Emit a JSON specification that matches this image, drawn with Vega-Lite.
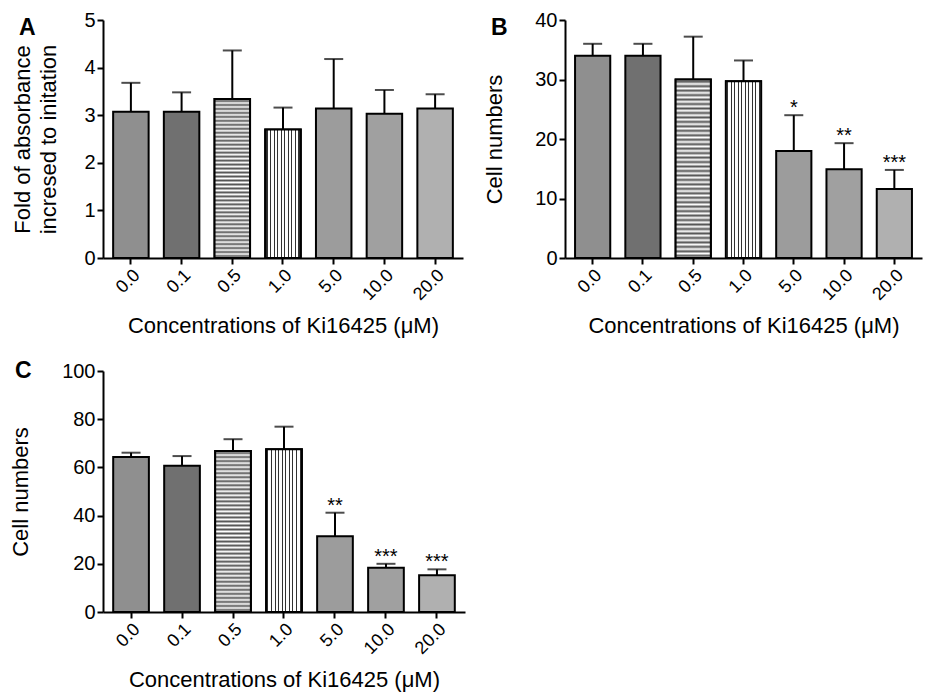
{
  "$schema": "https://vega.github.io/schema/vega-lite/v6.json",
  "padding": {"left": 9, "top": 10, "right": 5, "bottom": 5},
  "background": "white",
  "config": {
    "font": "Liberation Sans",
    "view": {"stroke": null},
    "axis": {
      "grid": false,
      "domainColor": "black", "domainWidth": 2,
      "tickColor": "black", "tickWidth": 2, "tickSize": 6,
      "labelColor": "black", "titleColor": "black",
      "titleFontWeight": "normal", "titleFontSize": 22, "labelFontSize": 20
    },
    "title": {"fontSize": 23, "fontWeight": "bold", "color": "black", "anchor": "start", "frame": "group"}
  },
  "datasets": {
    "a": [
      {"c": "0.0", "mean": 3.07, "hi": 3.68, "sig": ""},
      {"c": "0.1", "mean": 3.07, "hi": 3.48, "sig": ""},
      {"c": "0.5", "mean": 3.34, "hi": 4.36, "sig": ""},
      {"c": "1.0", "mean": 2.70, "hi": 3.16, "sig": ""},
      {"c": "5.0", "mean": 3.14, "hi": 4.18, "sig": ""},
      {"c": "10.0", "mean": 3.03, "hi": 3.53, "sig": ""},
      {"c": "20.0", "mean": 3.14, "hi": 3.44, "sig": ""}
    ],
    "b": [
      {"c": "0.0", "mean": 34.0, "hi": 36.0, "sig": ""},
      {"c": "0.1", "mean": 34.0, "hi": 36.0, "sig": ""},
      {"c": "0.5", "mean": 30.0, "hi": 37.2, "sig": ""},
      {"c": "1.0", "mean": 29.7, "hi": 33.2, "sig": ""},
      {"c": "5.0", "mean": 18.0, "hi": 24.0, "sig": "*"},
      {"c": "10.0", "mean": 14.9, "hi": 19.3, "sig": "**"},
      {"c": "20.0", "mean": 11.6, "hi": 14.8, "sig": "***"}
    ],
    "c": [
      {"c": "0.0", "mean": 64.3, "hi": 66.1, "sig": ""},
      {"c": "0.1", "mean": 60.7, "hi": 64.7, "sig": ""},
      {"c": "0.5", "mean": 66.8, "hi": 71.7, "sig": ""},
      {"c": "1.0", "mean": 67.5, "hi": 76.9, "sig": ""},
      {"c": "5.0", "mean": 31.4, "hi": 41.2, "sig": "**"},
      {"c": "10.0", "mean": 18.4, "hi": 20.0, "sig": "***"},
      {"c": "20.0", "mean": 15.2, "hi": 17.7, "sig": "***"}
    ]
  },
  "columns": 2,
  "spacing": {"row": 23, "column": 18},
  "concat": [
    {
      "title": {"text": "A", "dx": -84, "dy": 34},
      "width": 360, "height": 238,
      "data": {"name": "a"},
      "encoding": {
        "x": {"field": "c", "type": "ordinal", "sort": null,
              "scale": {"paddingInner": 0.3, "paddingOuter": 0.2},
              "axis": {"title": "Concentrations of Ki16425 (μM)", "labelAngle": -45, "labelFontSize": 18, "titlePadding": 12}}
      },
      "layer": [
        {"mark": {"type": "rule", "color": "black", "strokeWidth": 2},
         "encoding": {"y": {"field": "mean", "type": "quantitative"}, "y2": {"field": "hi"}}},
        {"mark": {"type": "bar", "stroke": "black", "strokeWidth": 2},
         "encoding": {
           "y": {"field": "mean", "type": "quantitative", "scale": {"domain": [0, 5]},
                 "axis": {"title": ["Fold of absorbance", "incresed to initation"], "titleLineHeight": 26, "values": [0, 1, 2, 3, 4, 5], "titlePadding": 23}},
           "fill": {"field": "c", "type": "nominal", "sort": null, "legend": null,
                    "scale": {"domain": ["0.0", "0.1", "0.5", "1.0", "5.0", "10.0", "20.0"], "range": ["#8f8f8f", "#707070", "#b8b8b8", "#c4c4c4", "#9c9c9c", "#a0a0a0", "#b0b0b0"]}}
         }},
        {"transform": [{"filter": "datum.c === '0.5'"}],
         "mark": {"type": "bar", "stroke": "black", "strokeWidth": 2,
           "fill": {"gradient": "linear", "x1": 0, "y1": 0, "x2": 0, "y2": 1, "stops": [
            {"offset": 0, "color": "white"}, {"offset": 0.0125, "color": "#555555"},
            {"offset": 0.025, "color": "white"}, {"offset": 0.0375, "color": "#555555"},
            {"offset": 0.05, "color": "white"}, {"offset": 0.0625, "color": "#555555"},
            {"offset": 0.075, "color": "white"}, {"offset": 0.0875, "color": "#555555"},
            {"offset": 0.1, "color": "white"}, {"offset": 0.1125, "color": "#555555"},
            {"offset": 0.125, "color": "white"}, {"offset": 0.1375, "color": "#555555"},
            {"offset": 0.15, "color": "white"}, {"offset": 0.1625, "color": "#555555"},
            {"offset": 0.175, "color": "white"}, {"offset": 0.1875, "color": "#555555"},
            {"offset": 0.2, "color": "white"}, {"offset": 0.2125, "color": "#555555"},
            {"offset": 0.225, "color": "white"}, {"offset": 0.2375, "color": "#555555"},
            {"offset": 0.25, "color": "white"}, {"offset": 0.2625, "color": "#555555"},
            {"offset": 0.275, "color": "white"}, {"offset": 0.2875, "color": "#555555"},
            {"offset": 0.3, "color": "white"}, {"offset": 0.3125, "color": "#555555"},
            {"offset": 0.325, "color": "white"}, {"offset": 0.3375, "color": "#555555"},
            {"offset": 0.35, "color": "white"}, {"offset": 0.3625, "color": "#555555"},
            {"offset": 0.375, "color": "white"}, {"offset": 0.3875, "color": "#555555"},
            {"offset": 0.4, "color": "white"}, {"offset": 0.4125, "color": "#555555"},
            {"offset": 0.425, "color": "white"}, {"offset": 0.4375, "color": "#555555"},
            {"offset": 0.45, "color": "white"}, {"offset": 0.4625, "color": "#555555"},
            {"offset": 0.475, "color": "white"}, {"offset": 0.4875, "color": "#555555"},
            {"offset": 0.5, "color": "white"}, {"offset": 0.5125, "color": "#555555"},
            {"offset": 0.525, "color": "white"}, {"offset": 0.5375, "color": "#555555"},
            {"offset": 0.55, "color": "white"}, {"offset": 0.5625, "color": "#555555"},
            {"offset": 0.575, "color": "white"}, {"offset": 0.5875, "color": "#555555"},
            {"offset": 0.6, "color": "white"}, {"offset": 0.6125, "color": "#555555"},
            {"offset": 0.625, "color": "white"}, {"offset": 0.6375, "color": "#555555"},
            {"offset": 0.65, "color": "white"}, {"offset": 0.6625, "color": "#555555"},
            {"offset": 0.675, "color": "white"}, {"offset": 0.6875, "color": "#555555"},
            {"offset": 0.7, "color": "white"}, {"offset": 0.7125, "color": "#555555"},
            {"offset": 0.725, "color": "white"}, {"offset": 0.7375, "color": "#555555"},
            {"offset": 0.75, "color": "white"}, {"offset": 0.7625, "color": "#555555"},
            {"offset": 0.775, "color": "white"}, {"offset": 0.7875, "color": "#555555"},
            {"offset": 0.8, "color": "white"}, {"offset": 0.8125, "color": "#555555"},
            {"offset": 0.825, "color": "white"}, {"offset": 0.8375, "color": "#555555"},
            {"offset": 0.85, "color": "white"}, {"offset": 0.8625, "color": "#555555"},
            {"offset": 0.875, "color": "white"}, {"offset": 0.8875, "color": "#555555"},
            {"offset": 0.9, "color": "white"}, {"offset": 0.9125, "color": "#555555"},
            {"offset": 0.925, "color": "white"}, {"offset": 0.9375, "color": "#555555"},
            {"offset": 0.95, "color": "white"}, {"offset": 0.9625, "color": "#555555"},
            {"offset": 0.975, "color": "white"}, {"offset": 0.9875, "color": "#555555"},
            {"offset": 1, "color": "white"}]}},
         "encoding": {"y": {"field": "mean", "type": "quantitative"}}},
        {"transform": [{"filter": "datum.c === '1.0'"}],
         "mark": {"type": "bar", "stroke": "black", "strokeWidth": 2,
           "fill": {"gradient": "linear", "x1": 0, "y1": 0, "x2": 1, "y2": 0, "stops": [
            {"offset": 0, "color": "white"},
            {"offset": 0.035, "color": "white"}, {"offset": 0.035, "color": "#333333"}, {"offset": 0.065, "color": "#333333"}, {"offset": 0.065, "color": "white"},
            {"offset": 0.135, "color": "white"}, {"offset": 0.135, "color": "#333333"}, {"offset": 0.165, "color": "#333333"}, {"offset": 0.165, "color": "white"},
            {"offset": 0.235, "color": "white"}, {"offset": 0.235, "color": "#333333"}, {"offset": 0.265, "color": "#333333"}, {"offset": 0.265, "color": "white"},
            {"offset": 0.335, "color": "white"}, {"offset": 0.335, "color": "#333333"}, {"offset": 0.365, "color": "#333333"}, {"offset": 0.365, "color": "white"},
            {"offset": 0.435, "color": "white"}, {"offset": 0.435, "color": "#333333"}, {"offset": 0.465, "color": "#333333"}, {"offset": 0.465, "color": "white"},
            {"offset": 0.535, "color": "white"}, {"offset": 0.535, "color": "#333333"}, {"offset": 0.565, "color": "#333333"}, {"offset": 0.565, "color": "white"},
            {"offset": 0.635, "color": "white"}, {"offset": 0.635, "color": "#333333"}, {"offset": 0.665, "color": "#333333"}, {"offset": 0.665, "color": "white"},
            {"offset": 0.735, "color": "white"}, {"offset": 0.735, "color": "#333333"}, {"offset": 0.765, "color": "#333333"}, {"offset": 0.765, "color": "white"},
            {"offset": 0.835, "color": "white"}, {"offset": 0.835, "color": "#333333"}, {"offset": 0.865, "color": "#333333"}, {"offset": 0.865, "color": "white"},
            {"offset": 0.935, "color": "white"}, {"offset": 0.935, "color": "#333333"}, {"offset": 0.965, "color": "#333333"}, {"offset": 0.965, "color": "white"},
            {"offset": 1, "color": "white"}]}},
         "encoding": {"y": {"field": "mean", "type": "quantitative"}}},
        {"mark": {"type": "tick", "color": "black", "thickness": 2, "size": 19},
         "encoding": {"y": {"field": "hi", "type": "quantitative"}}},
        {"mark": {"type": "text", "fontSize": 20, "dy": -1, "baseline": "alphabetic"},
         "encoding": {"y": {"field": "hi", "type": "quantitative"}, "text": {"field": "sig"}}}
      ]
    },
    {
      "title": {"text": "B", "dx": -74, "dy": 34},
      "width": 357, "height": 238,
      "data": {"name": "b"},
      "encoding": {
        "x": {"field": "c", "type": "ordinal", "sort": null,
              "scale": {"paddingInner": 0.3, "paddingOuter": 0.2},
              "axis": {"title": "Concentrations of Ki16425 (μM)", "labelAngle": -45, "labelFontSize": 18, "titlePadding": 12}}
      },
      "layer": [
        {"mark": {"type": "rule", "color": "black", "strokeWidth": 2},
         "encoding": {"y": {"field": "mean", "type": "quantitative"}, "y2": {"field": "hi"}}},
        {"mark": {"type": "bar", "stroke": "black", "strokeWidth": 2},
         "encoding": {
           "y": {"field": "mean", "type": "quantitative", "scale": {"domain": [0, 40]},
                 "axis": {"title": "Cell numbers", "values": [0, 10, 20, 30, 40], "titlePadding": 28}},
           "fill": {"field": "c", "type": "nominal", "sort": null, "legend": null,
                    "scale": {"domain": ["0.0", "0.1", "0.5", "1.0", "5.0", "10.0", "20.0"], "range": ["#8f8f8f", "#707070", "#b8b8b8", "#c4c4c4", "#9c9c9c", "#a0a0a0", "#b0b0b0"]}}
         }},
        {"transform": [{"filter": "datum.c === '0.5'"}],
         "mark": {"type": "bar", "stroke": "black", "strokeWidth": 2,
           "fill": {"gradient": "linear", "x1": 0, "y1": 0, "x2": 0, "y2": 1, "stops": [
            {"offset": 0, "color": "white"}, {"offset": 0.0125, "color": "#555555"},
            {"offset": 0.025, "color": "white"}, {"offset": 0.0375, "color": "#555555"},
            {"offset": 0.05, "color": "white"}, {"offset": 0.0625, "color": "#555555"},
            {"offset": 0.075, "color": "white"}, {"offset": 0.0875, "color": "#555555"},
            {"offset": 0.1, "color": "white"}, {"offset": 0.1125, "color": "#555555"},
            {"offset": 0.125, "color": "white"}, {"offset": 0.1375, "color": "#555555"},
            {"offset": 0.15, "color": "white"}, {"offset": 0.1625, "color": "#555555"},
            {"offset": 0.175, "color": "white"}, {"offset": 0.1875, "color": "#555555"},
            {"offset": 0.2, "color": "white"}, {"offset": 0.2125, "color": "#555555"},
            {"offset": 0.225, "color": "white"}, {"offset": 0.2375, "color": "#555555"},
            {"offset": 0.25, "color": "white"}, {"offset": 0.2625, "color": "#555555"},
            {"offset": 0.275, "color": "white"}, {"offset": 0.2875, "color": "#555555"},
            {"offset": 0.3, "color": "white"}, {"offset": 0.3125, "color": "#555555"},
            {"offset": 0.325, "color": "white"}, {"offset": 0.3375, "color": "#555555"},
            {"offset": 0.35, "color": "white"}, {"offset": 0.3625, "color": "#555555"},
            {"offset": 0.375, "color": "white"}, {"offset": 0.3875, "color": "#555555"},
            {"offset": 0.4, "color": "white"}, {"offset": 0.4125, "color": "#555555"},
            {"offset": 0.425, "color": "white"}, {"offset": 0.4375, "color": "#555555"},
            {"offset": 0.45, "color": "white"}, {"offset": 0.4625, "color": "#555555"},
            {"offset": 0.475, "color": "white"}, {"offset": 0.4875, "color": "#555555"},
            {"offset": 0.5, "color": "white"}, {"offset": 0.5125, "color": "#555555"},
            {"offset": 0.525, "color": "white"}, {"offset": 0.5375, "color": "#555555"},
            {"offset": 0.55, "color": "white"}, {"offset": 0.5625, "color": "#555555"},
            {"offset": 0.575, "color": "white"}, {"offset": 0.5875, "color": "#555555"},
            {"offset": 0.6, "color": "white"}, {"offset": 0.6125, "color": "#555555"},
            {"offset": 0.625, "color": "white"}, {"offset": 0.6375, "color": "#555555"},
            {"offset": 0.65, "color": "white"}, {"offset": 0.6625, "color": "#555555"},
            {"offset": 0.675, "color": "white"}, {"offset": 0.6875, "color": "#555555"},
            {"offset": 0.7, "color": "white"}, {"offset": 0.7125, "color": "#555555"},
            {"offset": 0.725, "color": "white"}, {"offset": 0.7375, "color": "#555555"},
            {"offset": 0.75, "color": "white"}, {"offset": 0.7625, "color": "#555555"},
            {"offset": 0.775, "color": "white"}, {"offset": 0.7875, "color": "#555555"},
            {"offset": 0.8, "color": "white"}, {"offset": 0.8125, "color": "#555555"},
            {"offset": 0.825, "color": "white"}, {"offset": 0.8375, "color": "#555555"},
            {"offset": 0.85, "color": "white"}, {"offset": 0.8625, "color": "#555555"},
            {"offset": 0.875, "color": "white"}, {"offset": 0.8875, "color": "#555555"},
            {"offset": 0.9, "color": "white"}, {"offset": 0.9125, "color": "#555555"},
            {"offset": 0.925, "color": "white"}, {"offset": 0.9375, "color": "#555555"},
            {"offset": 0.95, "color": "white"}, {"offset": 0.9625, "color": "#555555"},
            {"offset": 0.975, "color": "white"}, {"offset": 0.9875, "color": "#555555"},
            {"offset": 1, "color": "white"}]}},
         "encoding": {"y": {"field": "mean", "type": "quantitative"}}},
        {"transform": [{"filter": "datum.c === '1.0'"}],
         "mark": {"type": "bar", "stroke": "black", "strokeWidth": 2,
           "fill": {"gradient": "linear", "x1": 0, "y1": 0, "x2": 1, "y2": 0, "stops": [
            {"offset": 0, "color": "white"},
            {"offset": 0.035, "color": "white"}, {"offset": 0.035, "color": "#333333"}, {"offset": 0.065, "color": "#333333"}, {"offset": 0.065, "color": "white"},
            {"offset": 0.135, "color": "white"}, {"offset": 0.135, "color": "#333333"}, {"offset": 0.165, "color": "#333333"}, {"offset": 0.165, "color": "white"},
            {"offset": 0.235, "color": "white"}, {"offset": 0.235, "color": "#333333"}, {"offset": 0.265, "color": "#333333"}, {"offset": 0.265, "color": "white"},
            {"offset": 0.335, "color": "white"}, {"offset": 0.335, "color": "#333333"}, {"offset": 0.365, "color": "#333333"}, {"offset": 0.365, "color": "white"},
            {"offset": 0.435, "color": "white"}, {"offset": 0.435, "color": "#333333"}, {"offset": 0.465, "color": "#333333"}, {"offset": 0.465, "color": "white"},
            {"offset": 0.535, "color": "white"}, {"offset": 0.535, "color": "#333333"}, {"offset": 0.565, "color": "#333333"}, {"offset": 0.565, "color": "white"},
            {"offset": 0.635, "color": "white"}, {"offset": 0.635, "color": "#333333"}, {"offset": 0.665, "color": "#333333"}, {"offset": 0.665, "color": "white"},
            {"offset": 0.735, "color": "white"}, {"offset": 0.735, "color": "#333333"}, {"offset": 0.765, "color": "#333333"}, {"offset": 0.765, "color": "white"},
            {"offset": 0.835, "color": "white"}, {"offset": 0.835, "color": "#333333"}, {"offset": 0.865, "color": "#333333"}, {"offset": 0.865, "color": "white"},
            {"offset": 0.935, "color": "white"}, {"offset": 0.935, "color": "#333333"}, {"offset": 0.965, "color": "#333333"}, {"offset": 0.965, "color": "white"},
            {"offset": 1, "color": "white"}]}},
         "encoding": {"y": {"field": "mean", "type": "quantitative"}}},
        {"mark": {"type": "tick", "color": "black", "thickness": 2, "size": 19},
         "encoding": {"y": {"field": "hi", "type": "quantitative"}}},
        {"mark": {"type": "text", "fontSize": 20, "dy": -1, "baseline": "alphabetic"},
         "encoding": {"y": {"field": "hi", "type": "quantitative"}, "text": {"field": "sig"}}}
      ]
    },
    {
      "title": {"text": "C", "dx": -88, "dy": 26},
      "width": 362, "height": 241,
      "data": {"name": "c"},
      "encoding": {
        "x": {"field": "c", "type": "ordinal", "sort": null,
              "scale": {"paddingInner": 0.3, "paddingOuter": 0.2},
              "axis": {"title": "Concentrations of Ki16425 (μM)", "labelAngle": -45, "labelFontSize": 18, "titlePadding": 12}}
      },
      "layer": [
        {"mark": {"type": "rule", "color": "black", "strokeWidth": 2},
         "encoding": {"y": {"field": "mean", "type": "quantitative"}, "y2": {"field": "hi"}}},
        {"mark": {"type": "bar", "stroke": "black", "strokeWidth": 2},
         "encoding": {
           "y": {"field": "mean", "type": "quantitative", "scale": {"domain": [0, 100]},
                 "axis": {"title": "Cell numbers", "values": [0, 20, 40, 60, 80, 100], "titlePadding": 29}},
           "fill": {"field": "c", "type": "nominal", "sort": null, "legend": null,
                    "scale": {"domain": ["0.0", "0.1", "0.5", "1.0", "5.0", "10.0", "20.0"], "range": ["#8f8f8f", "#707070", "#b8b8b8", "#c4c4c4", "#9c9c9c", "#a0a0a0", "#b0b0b0"]}}
         }},
        {"transform": [{"filter": "datum.c === '0.5'"}],
         "mark": {"type": "bar", "stroke": "black", "strokeWidth": 2,
           "fill": {"gradient": "linear", "x1": 0, "y1": 0, "x2": 0, "y2": 1, "stops": [
            {"offset": 0, "color": "white"}, {"offset": 0.0125, "color": "#555555"},
            {"offset": 0.025, "color": "white"}, {"offset": 0.0375, "color": "#555555"},
            {"offset": 0.05, "color": "white"}, {"offset": 0.0625, "color": "#555555"},
            {"offset": 0.075, "color": "white"}, {"offset": 0.0875, "color": "#555555"},
            {"offset": 0.1, "color": "white"}, {"offset": 0.1125, "color": "#555555"},
            {"offset": 0.125, "color": "white"}, {"offset": 0.1375, "color": "#555555"},
            {"offset": 0.15, "color": "white"}, {"offset": 0.1625, "color": "#555555"},
            {"offset": 0.175, "color": "white"}, {"offset": 0.1875, "color": "#555555"},
            {"offset": 0.2, "color": "white"}, {"offset": 0.2125, "color": "#555555"},
            {"offset": 0.225, "color": "white"}, {"offset": 0.2375, "color": "#555555"},
            {"offset": 0.25, "color": "white"}, {"offset": 0.2625, "color": "#555555"},
            {"offset": 0.275, "color": "white"}, {"offset": 0.2875, "color": "#555555"},
            {"offset": 0.3, "color": "white"}, {"offset": 0.3125, "color": "#555555"},
            {"offset": 0.325, "color": "white"}, {"offset": 0.3375, "color": "#555555"},
            {"offset": 0.35, "color": "white"}, {"offset": 0.3625, "color": "#555555"},
            {"offset": 0.375, "color": "white"}, {"offset": 0.3875, "color": "#555555"},
            {"offset": 0.4, "color": "white"}, {"offset": 0.4125, "color": "#555555"},
            {"offset": 0.425, "color": "white"}, {"offset": 0.4375, "color": "#555555"},
            {"offset": 0.45, "color": "white"}, {"offset": 0.4625, "color": "#555555"},
            {"offset": 0.475, "color": "white"}, {"offset": 0.4875, "color": "#555555"},
            {"offset": 0.5, "color": "white"}, {"offset": 0.5125, "color": "#555555"},
            {"offset": 0.525, "color": "white"}, {"offset": 0.5375, "color": "#555555"},
            {"offset": 0.55, "color": "white"}, {"offset": 0.5625, "color": "#555555"},
            {"offset": 0.575, "color": "white"}, {"offset": 0.5875, "color": "#555555"},
            {"offset": 0.6, "color": "white"}, {"offset": 0.6125, "color": "#555555"},
            {"offset": 0.625, "color": "white"}, {"offset": 0.6375, "color": "#555555"},
            {"offset": 0.65, "color": "white"}, {"offset": 0.6625, "color": "#555555"},
            {"offset": 0.675, "color": "white"}, {"offset": 0.6875, "color": "#555555"},
            {"offset": 0.7, "color": "white"}, {"offset": 0.7125, "color": "#555555"},
            {"offset": 0.725, "color": "white"}, {"offset": 0.7375, "color": "#555555"},
            {"offset": 0.75, "color": "white"}, {"offset": 0.7625, "color": "#555555"},
            {"offset": 0.775, "color": "white"}, {"offset": 0.7875, "color": "#555555"},
            {"offset": 0.8, "color": "white"}, {"offset": 0.8125, "color": "#555555"},
            {"offset": 0.825, "color": "white"}, {"offset": 0.8375, "color": "#555555"},
            {"offset": 0.85, "color": "white"}, {"offset": 0.8625, "color": "#555555"},
            {"offset": 0.875, "color": "white"}, {"offset": 0.8875, "color": "#555555"},
            {"offset": 0.9, "color": "white"}, {"offset": 0.9125, "color": "#555555"},
            {"offset": 0.925, "color": "white"}, {"offset": 0.9375, "color": "#555555"},
            {"offset": 0.95, "color": "white"}, {"offset": 0.9625, "color": "#555555"},
            {"offset": 0.975, "color": "white"}, {"offset": 0.9875, "color": "#555555"},
            {"offset": 1, "color": "white"}]}},
         "encoding": {"y": {"field": "mean", "type": "quantitative"}}},
        {"transform": [{"filter": "datum.c === '1.0'"}],
         "mark": {"type": "bar", "stroke": "black", "strokeWidth": 2,
           "fill": {"gradient": "linear", "x1": 0, "y1": 0, "x2": 1, "y2": 0, "stops": [
            {"offset": 0, "color": "white"},
            {"offset": 0.035, "color": "white"}, {"offset": 0.035, "color": "#333333"}, {"offset": 0.065, "color": "#333333"}, {"offset": 0.065, "color": "white"},
            {"offset": 0.135, "color": "white"}, {"offset": 0.135, "color": "#333333"}, {"offset": 0.165, "color": "#333333"}, {"offset": 0.165, "color": "white"},
            {"offset": 0.235, "color": "white"}, {"offset": 0.235, "color": "#333333"}, {"offset": 0.265, "color": "#333333"}, {"offset": 0.265, "color": "white"},
            {"offset": 0.335, "color": "white"}, {"offset": 0.335, "color": "#333333"}, {"offset": 0.365, "color": "#333333"}, {"offset": 0.365, "color": "white"},
            {"offset": 0.435, "color": "white"}, {"offset": 0.435, "color": "#333333"}, {"offset": 0.465, "color": "#333333"}, {"offset": 0.465, "color": "white"},
            {"offset": 0.535, "color": "white"}, {"offset": 0.535, "color": "#333333"}, {"offset": 0.565, "color": "#333333"}, {"offset": 0.565, "color": "white"},
            {"offset": 0.635, "color": "white"}, {"offset": 0.635, "color": "#333333"}, {"offset": 0.665, "color": "#333333"}, {"offset": 0.665, "color": "white"},
            {"offset": 0.735, "color": "white"}, {"offset": 0.735, "color": "#333333"}, {"offset": 0.765, "color": "#333333"}, {"offset": 0.765, "color": "white"},
            {"offset": 0.835, "color": "white"}, {"offset": 0.835, "color": "#333333"}, {"offset": 0.865, "color": "#333333"}, {"offset": 0.865, "color": "white"},
            {"offset": 0.935, "color": "white"}, {"offset": 0.935, "color": "#333333"}, {"offset": 0.965, "color": "#333333"}, {"offset": 0.965, "color": "white"},
            {"offset": 1, "color": "white"}]}},
         "encoding": {"y": {"field": "mean", "type": "quantitative"}}},
        {"mark": {"type": "tick", "color": "black", "thickness": 2, "size": 19},
         "encoding": {"y": {"field": "hi", "type": "quantitative"}}},
        {"mark": {"type": "text", "fontSize": 20, "dy": -1, "baseline": "alphabetic"},
         "encoding": {"y": {"field": "hi", "type": "quantitative"}, "text": {"field": "sig"}}}
      ]
    }
  ]
}
